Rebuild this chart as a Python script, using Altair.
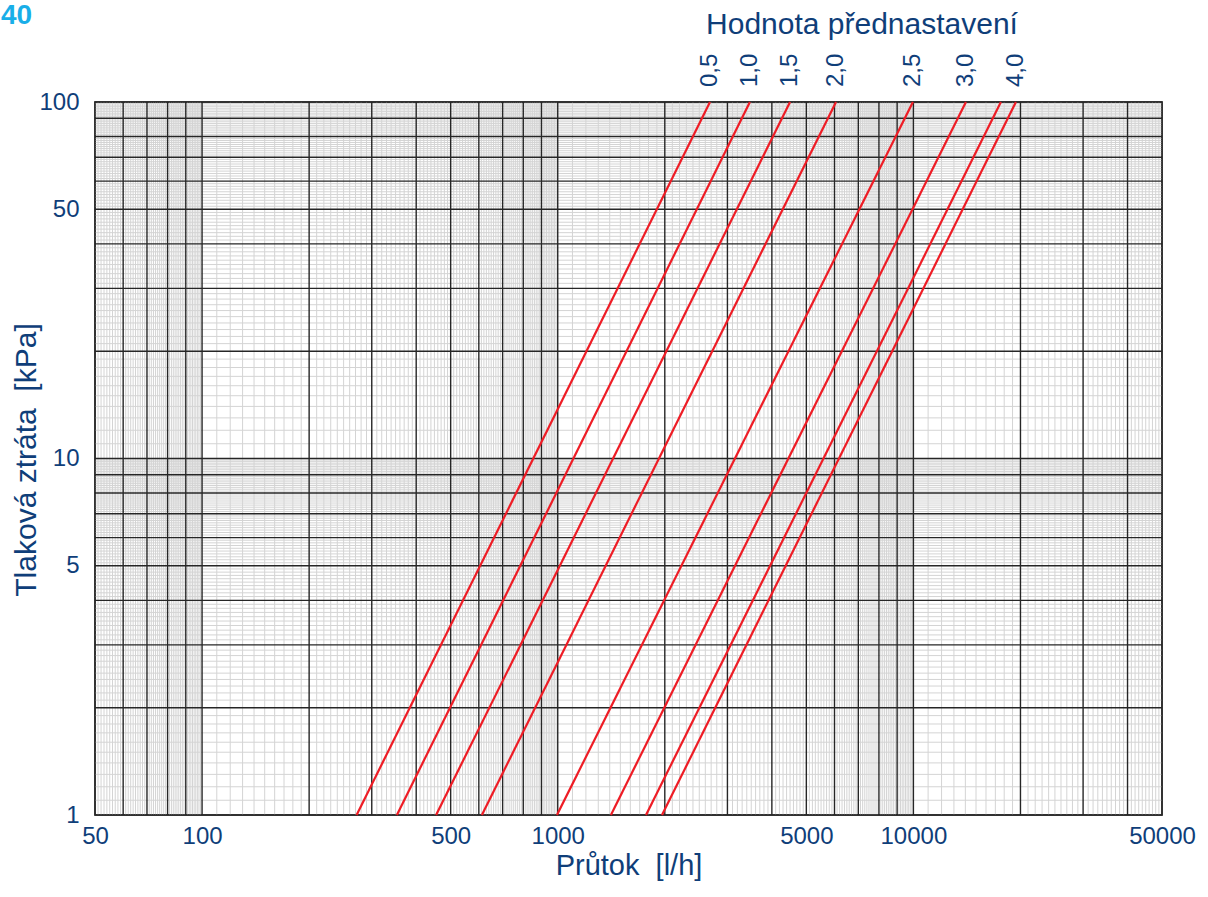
import altair as alt
import pandas as pd

# ---- data ----
series_names = ["0,5", "1,0", "1,5", "2,0", "2,5", "3,0", "3,5", "4,0"]
flow_at_1kpa = [272, 353, 455, 612, 995, 1411, 1771, 1964]        # l/h where line crosses 1 kPa
flow_at_100kpa = [2680, 3470, 4500, 6060, 9970, 14050, 17620, 19420]  # l/h where line crosses 100 kPa
label_texts = ["0,5", "1,0", "1,5", "2,0", "2,5", "3,0", "4,0"]
label_flows = [2680, 3470, 4500, 6060, 9970, 14050, 19420]

x_tick_values = [50, 100, 500, 1000, 5000, 10000, 50000]
y_tick_values = [1, 5, 10, 50, 100]
x_decades = [10, 100, 1000, 10000]
y_decades = [1, 10]
X_MIN, X_MAX = 50, 50000
Y_MIN, Y_MAX = 1, 100

NAVY = "#0f3e79"
FONT = "Liberation Sans"

# ---- grid tables ----
def major_vals(decades, lo, hi):
    return sorted({i * d for d in decades for i in range(1, 10) if lo <= i * d <= hi} | {hi})

def minor_vals(decades, lo, hi):
    out = []
    for d in decades:
        for i in range(1, 10):
            for j in range(1, 10):
                v = round((i + j / 10) * d, 6)
                if lo < v < hi:
                    out.append(v)
    return out

x_major = pd.DataFrame({"v": major_vals(x_decades, X_MIN, X_MAX)})
x_minor = pd.DataFrame({"v": minor_vals(x_decades, X_MIN, X_MAX)})
y_major = pd.DataFrame({"v": major_vals(y_decades, Y_MIN, Y_MAX)})
y_minor = pd.DataFrame({"v": minor_vals(y_decades, Y_MIN, Y_MAX)})

rows = []
for name, q1, q100 in zip(series_names, flow_at_1kpa, flow_at_100kpa):
    rows.append({"s": name, "q": q1, "dp": 1})
    rows.append({"s": name, "q": q100, "dp": 100})
lines_df = pd.DataFrame(rows)
labels_df = pd.DataFrame({"t": label_texts, "q": label_flows})

xs = alt.Scale(type="log", domain=[X_MIN, X_MAX], nice=False)
ys = alt.Scale(type="log", domain=[Y_MIN, Y_MAX], nice=False)

x_axis = alt.Axis(values=x_tick_values, format="d", title=None, grid=False,
                  ticks=False, domain=False, labelFontSize=24, labelColor=NAVY,
                  labelFont=FONT, labelPadding=9, labelFlush=False, labelOverlap=False)
y_axis = alt.Axis(values=y_tick_values, format="d", title=None, grid=False,
                  ticks=False, domain=False, labelFontSize=24, labelColor=NAVY,
                  labelFont=FONT, labelPadding=16, labelFlush=False, labelOverlap=False)

xminor = alt.Chart(x_minor).mark_rule(color="#d4d4d4", strokeWidth=1.0).encode(
    x=alt.X("v:Q", scale=xs, axis=x_axis))
yminor = alt.Chart(y_minor).mark_rule(color="#d4d4d4", strokeWidth=1.0).encode(
    y=alt.Y("v:Q", scale=ys, axis=y_axis))
xmajor = alt.Chart(x_major).mark_rule(color="#262626", strokeWidth=1.4).encode(
    x=alt.X("v:Q", scale=xs, axis=x_axis))
ymajor = alt.Chart(y_major).mark_rule(color="#262626", strokeWidth=1.4).encode(
    y=alt.Y("v:Q", scale=ys, axis=y_axis))

lines = alt.Chart(lines_df).mark_line(color="#ee1c25", strokeWidth=2.2).encode(
    x=alt.X("q:Q", scale=xs, axis=x_axis),
    y=alt.Y("dp:Q", scale=ys, axis=y_axis),
    detail="s:N",
)

top_labels = alt.Chart(labels_df).mark_text(
    angle=270, align="left", baseline="middle", fontSize=24, font=FONT, color=NAVY
).encode(x=alt.X("q:Q", scale=xs, axis=x_axis), y=alt.value(-15), text="t:N")

def txt(text, x, y, size, angle=0, color=NAVY, weight="normal", align="center"):
    return alt.Chart(pd.DataFrame({"t": [text]})).mark_text(
        fontSize=size, font=FONT, color=color, angle=angle, fontWeight=weight,
        align=align, baseline="middle"
    ).encode(x=alt.value(x), y=alt.value(y), text="t:N")

title_top = txt("Hodnota přednastavení", 767, -77, 30)
x_title = txt("Průtok\u00a0\u00a0[l/h]", 534, 764, 29)
y_title = txt("Tlaková ztráta\u00a0\u00a0[kPa]", -68, 358, 30, angle=270)
corner = txt("40", -94, -86, 28, color="#19aee8", weight="bold", align="left")

chart = alt.layer(
    xminor, yminor, xmajor, ymajor, lines, top_labels, title_top, x_title, y_title, corner
).properties(
    width=1067, height=713,
    autosize=alt.AutoSizeParams(type="none"),
    padding={"left": 95, "top": 102, "right": 46, "bottom": 82},
    background="white",
).configure_view(stroke="#555555", strokeWidth=2)

chart.save("out.html", embed_options={"renderer": "svg", "actions": False})
